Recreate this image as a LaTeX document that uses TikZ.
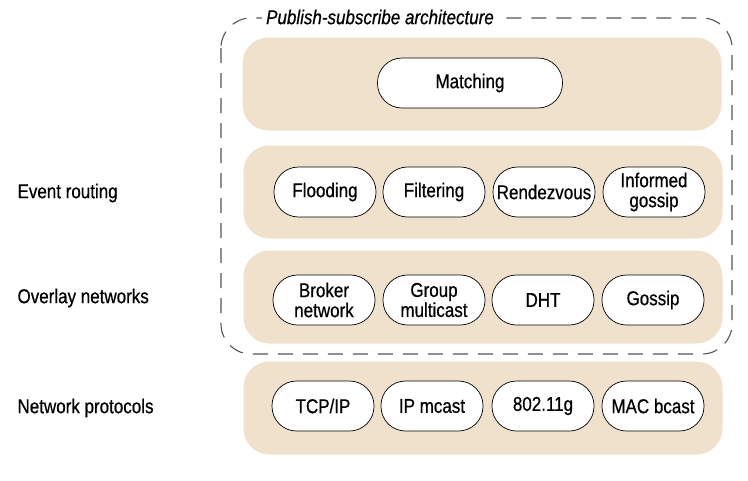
\documentclass[tikz,border=0pt]{standalone}
\usepackage{fontspec}
\setmainfont{Liberation Sans}[FakeStretch=0.85, FakeBold=0.6]
\usepackage{tikz}
\usetikzlibrary{positioning}
\usepackage{xcolor}
\definecolor{layertan}{RGB}{240,225,205}
\definecolor{dashgray}{RGB}{85,85,85}

\begin{document}
\begin{tikzpicture}[
    x=1pt, y=-1pt,
    layer/.style={fill=layertan, draw=none, rounded corners=26pt, minimum width=479pt, minimum height=93pt, inner sep=0pt},
    pill/.style={draw, line width=0.7pt, fill=white, rounded corners=24.5pt, minimum width=102pt, minimum height=50pt, align=center, inner sep=1pt, font=\fontsize{20}{20}\selectfont},
    sidelabel/.style={anchor=west, font=\fontsize{20}{22}\selectfont},
    frame/.style={draw=dashgray, line width=1.1pt, dash pattern=on 15pt off 10pt, rounded corners=30pt}
]
\useasboundingbox (0,0) rectangle (748,480);

% Publish-subscribe frame (dashed)
\draw[frame] (221,18) rectangle (732,354);
\node[fill=white, inner sep=4pt, font=\fontsize{20}{22}\selectfont\itshape] (pstitle) at (380,17) {Publish-subscribe architecture};

% Matching layer (top)
\node[layer] (matchlayer) at (482,84) {};
\node[pill, minimum width=185pt] (matching) at (470,83) {Matching};

% Event routing layer
\node[layer] (routelayer) at (483,192) {};
\node[pill] (flooding) at (325,192) {Flooding};
\node[pill] (filtering) at (434,192) {Filtering};
\node[pill] (rendezvous) at (544,192) {Rendezvous};
\node[pill] (informed) at (654,192) {Informed\\gossip};

% Overlay networks layer
\node[layer] (overlaylayer) at (483,297) {};
\node[pill] (broker) at (324,300) {Broker\\network};
\node[pill] (groupmc) at (434,300) {Group\\multicast};
\node[pill] (dht) at (543,300) {DHT};
\node[pill] (gossip) at (653,300) {Gossip};

% Network protocols layer (bottom)
\node[layer] (netlayer) at (483,408) {};
\node[pill] (tcpip) at (323,406) {TCP/IP};
\node[pill] (ipmcast) at (432,406) {IP mcast};
\node[pill] (wifi) at (543,406) {802.11g};
\node[pill] (macbcast) at (653,406) {MAC bcast};

% Side labels
\node[sidelabel] (routelbl) at (14,193) {Event routing};
\node[sidelabel] (overlaylbl) at (14,298) {Overlay networks};
\node[sidelabel] (netlbl) at (14,408) {Network protocols};

\end{tikzpicture}
\end{document}
